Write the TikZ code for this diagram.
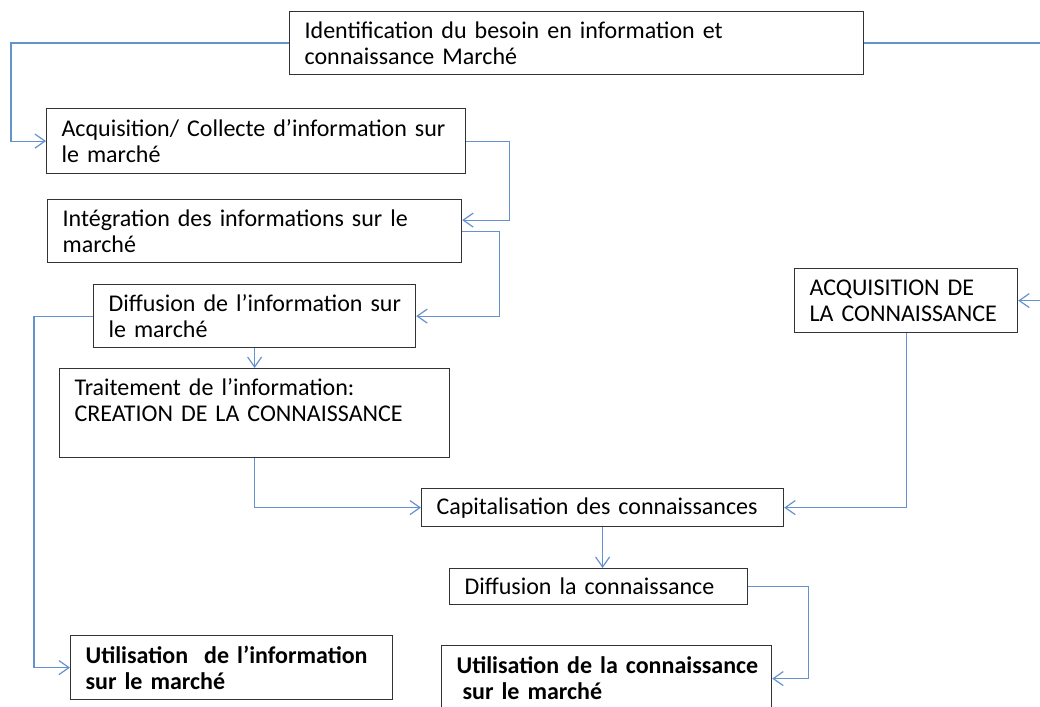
\documentclass[tikz,border=0pt]{standalone}
\usepackage{fontspec}
\setmainfont{Carlito}
\usepackage{tikz}
\usetikzlibrary{arrows.meta, positioning, calc}
\definecolor{bleuoffice}{HTML}{6592CE}

\begin{document}
\begin{tikzpicture}[x=1pt, y=-1pt,
    boite/.style={draw=black!80, line width=1.2pt, anchor=north west, align=left,
      inner xsep=15pt, inner ysep=0pt, font=\fontsize{24}{26}\selectfont},
    fleche/.style={draw=bleuoffice, line width=1.2pt, -{Straight Barb[length=10pt,width=14pt]}}]
  \useasboundingbox (0,0) rectangle (1040,706);
  \clip (0,0) rectangle (1040,706);
  % Information
  \node[boite, text width=544pt, minimum height=63pt] (besoin) at (289,11)
    {Identification du besoin en information et\\connaissance Marché};
  \node[boite, text width=389pt, minimum height=65pt] (collecte) at (46,108)
    {\mbox{Acquisition/ Collecte d’information sur}\\le marché};
  \node[boite, text width=384pt, minimum height=63pt] (integration) at (47,199)
    {Intégration des informations sur le\\marché};
  \node[boite, text width=292pt, minimum height=63pt] (diffinfo) at (93,284)
    {\mbox{Diffusion de l’information sur}\\le marché};
  \node[boite, text width=360pt, minimum height=89pt] (traitement) at (59,368)
    {Traitement de l’information:\\CREATION DE LA CONNAISSANCE\\\mbox{}};
  \node[boite, text width=292pt, minimum height=64pt, font=\fontsize{24}{26}\selectfont\bfseries] (utilinfo) at (70,635)
    {\mbox{Utilisation\ \ de l’information}\\sur le marché};
  % Connaissance
  \node[boite, text width=193pt, minimum height=64pt] (acqconn) at (794,268)
    {\mbox{ACQUISITION DE}\\\mbox{LA CONNAISSANCE}};
  \node[boite, text width=332pt, minimum height=38pt] (capital) at (421,488)
    {Capitalisation des connaissances};
  \node[boite, text width=268pt, minimum height=36pt] (diffconn) at (449,568)
    {Diffusion la connaissance};
  \node[boite, text width=300pt, minimum height=66pt, font=\fontsize{24}{26}\selectfont\bfseries] (utilconn) at (441,645)
    {\mbox{Utilisation de la connaissance}\\\hspace*{0.25em}sur le marché};
  % fleches
  \draw[fleche] (besoin.west) -- ++(-278,0) |- (collecte.west);
  \draw[fleche] (besoin.east) -- ++(180,0) |- (acqconn.east);
  \draw[fleche] (collecte.east) -- ++(43,0) |- ([yshift=11pt]integration.east);
  \draw[fleche] (integration.east) -- ++(37,0) |- (diffinfo.east);
  \draw[fleche] (diffinfo.south) -- (traitement.north);
  \draw[fleche] (diffinfo.west) -- ++(-59,0) |- (utilinfo.west);
  \draw[fleche] (traitement.south) |- (capital.west);
  \draw[fleche] (acqconn.south) |- (capital.east);
  \draw[fleche] (capital.south) -- (capital.south |- diffconn.north);
  \draw[fleche] (diffconn.east) -- ++(60,0) |- (utilconn.east);
\end{tikzpicture}
\end{document}
